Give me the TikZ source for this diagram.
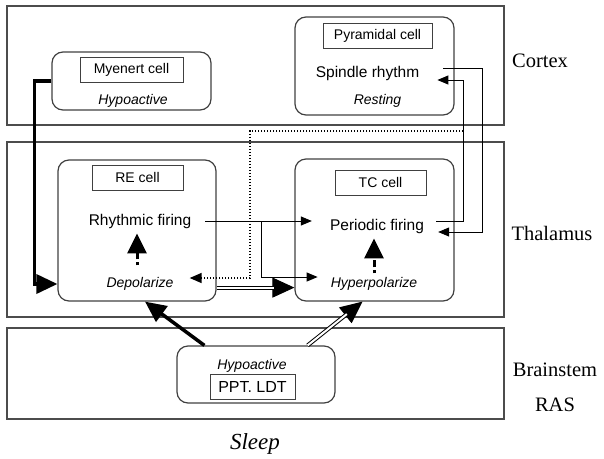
\documentclass[tikz,border=0pt]{standalone}
\usepackage{fontspec}
\setmainfont{Liberation Serif}
\setsansfont{Liberation Sans}
\usetikzlibrary{arrows.meta}

\begin{document}
\begin{tikzpicture}[x=1pt,y=-1pt,
  band/.style={draw=black!70,line width=1.3pt,minimum width=497pt},
  cell/.style={draw=black!75,line width=1.2pt,rounded corners=11pt},
  tag/.style={draw=black!75,line width=1pt,minimum width=91pt,minimum height=25pt,inner sep=0pt,font=\sffamily\fontsize{14}{16}\selectfont},
  act/.style={inner sep=2pt,font=\sffamily\fontsize{15.5}{17}\selectfont},
  status/.style={inner sep=2pt,font=\sffamily\itshape\fontsize{14}{16}\selectfont},
  region/.style={font=\fontsize{20.5}{23}\selectfont},
  signal/.style={line width=1pt,-{Triangle[length=11pt,width=9pt]}},
  heavy/.style={line width=3.5pt,-{Triangle[length=21pt,width=19pt]}},
  twin/.style={line width=1pt,-{Triangle[length=22pt,width=20pt]},postaction={draw,arrows=-,double,double distance=2pt,shorten >=20pt}},
  feedback/.style={line width=1.5pt,dash pattern=on 1.5pt off 1.5pt,-{Triangle[length=12pt,width=10pt]}},
  drive/.style={line width=3pt,dash pattern=on 3pt off 3pt on 7pt off 40pt,-{Triangle[length=20pt,width=19pt]}}
]
\useasboundingbox (0,0) rectangle (604,458);

\node[band,minimum height=119pt] (cortex) at (255.5,65.5) {};
\node[band,minimum height=175pt] (thalamus) at (255.5,229.5) {};
\node[band,minimum height=91pt] (brainstem) at (255.5,373.5) {};

\node[cell,minimum width=159pt,minimum height=58pt] (myenert) at (131.5,81) {};
\node[cell,minimum width=159pt,minimum height=98pt] (pyramidal) at (374.5,66) {};
\node[cell,minimum width=158pt,minimum height=141pt] (re) at (137,230.5) {};
\node[cell,minimum width=159pt,minimum height=142pt] (tc) at (374.5,230) {};
\node[cell,minimum width=158pt,minimum height=57pt] (ppt) at (256,374.5) {};

\node[tag,minimum width=103pt] (myenerttag) at (131.5,69.5) {Myenert cell};
\node[tag,minimum width=109pt] (pyramidaltag) at (377.5,35.5) {Pyramidal cell};
\node[tag] (retag) at (137.5,177.5) {RE cell};
\node[tag] (tctag) at (380.5,182.5) {TC cell};
\node[tag,minimum width=85pt,font=\sffamily\fontsize{16}{18}\selectfont] (ppttag) at (252.5,386.5) {PPT. LDT};

\node[status] (myenertstate) at (133,101) {Hypoactive};
\node[status] (resting) at (377.5,101) {Resting};
\node[status] (depol) at (140,284) {Depolarize};
\node[status] (hyper) at (374,284) {Hyperpolarize};
\node[status] (pptstate) at (252,366) {Hypoactive};

\node[act] (spindle) at (367.5,73) {Spindle rhythm};
\node[act] (rhythm) at (140,221) {Rhythmic firing};
\node[act] (periodic) at (377,226) {Periodic firing};

\node[region] (cortexlabel) at (540,61) {Cortex};
\node[region] (thalamuslabel) at (552,233) {Thalamus};
\node[region] (brainstemlabel) at (555,370) {Brainstem};
\node[region] (raslabel) at (555,405) {RAS};
\node[font=\itshape\fontsize{23}{26}\selectfont] (sleep) at (255,444) {Sleep};

\draw[heavy] (myenert.west) -- ++(-17,0) |- (re.west |- depol);
\draw[heavy] ([xshift=28pt]ppt.north west) -- ([xshift=8pt]re.south);
\draw[twin] ([xshift=-28pt]ppt.north east) -- ([xshift=-12pt]tc.south);
\draw[twin] ([yshift=14pt]re.south east) -- ([yshift=14pt]tc.south west);

\draw[signal,shorten <=12pt,shorten >=16pt] (rhythm.east) -- (rhythm.east -| periodic.west);
\coordinate (fork) at (261,221);
\draw[signal,shorten >=11pt] (fork) |- ([yshift=7pt]hyper.west);

\draw[signal,shorten <=10pt,shorten >=16pt] ([yshift=5pt]periodic.east) -- ++(37,0) coordinate (rail) |- ([yshift=-7pt]spindle.east);
\draw[signal,shorten <=22pt,shorten >=12pt] ([yshift=5pt]spindle.east) -- ++(61,0) |- ([yshift=-6pt]periodic.east);

\coordinate (bend) at (250,131);
\draw[feedback,shorten >=14pt] (rail |- bend) -- (bend) |- ([yshift=6pt]depol.east);

\draw[drive,shorten <=10pt,shorten >=3pt] ([xshift=-3pt]depol.north) -- ([xshift=-3pt]rhythm.south);
\draw[drive,shorten <=2pt,shorten >=3pt] (hyper.north) -- (hyper.north |- periodic.south);
\end{tikzpicture}
\end{document}
